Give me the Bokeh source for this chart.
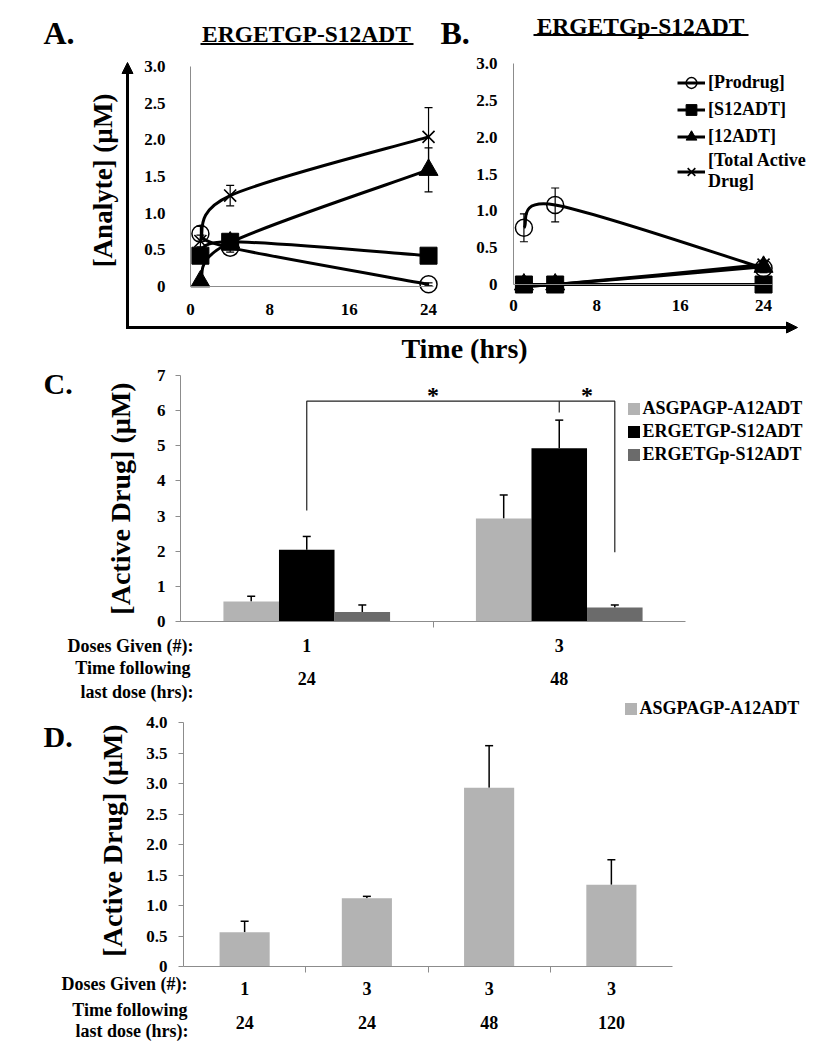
import math
from bokeh.plotting import figure
from bokeh.models import (ColumnDataSource, Whisker, TeeHead, NormalHead, Arrow,
                          Label, Legend, LegendItem, FixedTicker, Range1d, LinearAxis)
from bokeh.core.properties import value
from bokeh.embed import file_html
from bokeh.resources import INLINE

FONT = "Liberation Serif"
AXIS_GRAY = "#8c8c8c"

# ---------------- data ----------------
hours = [1, 4, 24]
prodrug_A = [0.72, 0.53, 0.03]
prodrug_A_err = [0.10, 0.06, 0.02]
s12adt_A = [0.42, 0.61, 0.42]
s12adt_A_err = [0.10, 0.03, 0.03]
adt12_A = [0.07, 0.60, 1.59]
adt12_A_err = [0.03, 0.05, 0.30]
total_A = [0.62, 1.24, 2.04]
total_A_err = [0.08, 0.14, 0.40]

prodrug_B = [0.77, 1.08, 0.22]
prodrug_B_err = [0.19, 0.23, 0.06]
s12adt_B = [0.0, 0.0, 0.0]
s12adt_B_err = [0.0, 0.0, 0.0]
adt12_B = [0.0, 0.0, 0.24]
adt12_B_err = [0.0, 0.0, 0.03]
total_B = [0.0, 0.0, 0.27]
total_B_err = [0.0, 0.0, 0.04]

series_AB = ["[Prodrug]", "[S12ADT]", "[12ADT]", "[Total Active\nDrug]"]
time_ticks = [0, 8, 16, 24]
analyte_ticks = [0, 0.5, 1.0, 1.5, 2.0, 2.5, 3.0]
analyte_tick_labels = ["0", "0.5", "1.0", "1.5", "2.0", "2.5", "3.0"]

series_C = ["ASGPAGP-A12ADT", "ERGETGP-S12ADT", "ERGETGp-S12ADT"]
doses_C = ["1", "3"]
hours_C = ["24", "48"]
asgpagp_C = [0.57, 2.93]
asgpagp_C_err = [0.15, 0.67]
ergetgp_C = [2.04, 4.93]
ergetgp_C_err = [0.38, 0.80]
ergetgp_p_C = [0.27, 0.40]
ergetgp_p_C_err = [0.20, 0.07]
drug_ticks_C = [0, 1, 2, 3, 4, 5, 6, 7]
drug_tick_labels_C = ["0", "1", "2", "3", "4", "5", "6", "7"]

series_D = ["ASGPAGP-A12ADT"]
doses_D = ["1", "3", "3", "3"]
hours_D = ["24", "24", "48", "120"]
asgpagp_D = [0.56, 1.12, 2.93, 1.34]
asgpagp_D_err = [0.18, 0.03, 0.69, 0.41]
drug_ticks_D = [0, 0.5, 1.0, 1.5, 2.0, 2.5, 3.0, 3.5, 4.0]
drug_tick_labels_D = ["0", "0.5", "1.0", "1.5", "2.0", "2.5", "3.0", "3.5", "4.0"]

# significance bracket in C (y values in uM)
bracket_top = 6.27
bracket_bottoms = [3.16, 5.95, 1.97]
star_lift = 0.17

BAR_COLORS = ["#b3b3b3", "#000000", "#6b6b6b"]

# ---------------- canvas ----------------
W, H = 823, 1046
p = figure(width=W, height=H, x_range=Range1d(0, W), y_range=Range1d(H, 0),
           x_axis_type=None, y_axis_type=None, min_border=0,
           min_border_left=0, min_border_right=0, min_border_top=0, min_border_bottom=0,
           output_backend="svg", toolbar_location=None, tools="")
p.outline_line_color = None
p.background_fill_color = "white"
p.border_fill_color = "white"


def panel_ranges(name, fl, fr, ft, fb, xr, yr):
    """Ranges for one sub-chart whose data box (xr, yr) sits at the given pixel frame."""
    sx = (fr - fl) / (xr[1] - xr[0])
    sy = (fb - ft) / (yr[1] - yr[0])
    p.extra_x_ranges["x" + name] = Range1d(xr[0] - fl / sx, xr[1] + (W - fr) / sx)
    p.extra_y_ranges["y" + name] = Range1d(yr[0] - (H - fb) / sy, yr[1] + ft / sy)
    return dict(x_range_name="x" + name, y_range_name="y" + name)


def text(x, y, s, size, align="left", angle=0.0):
    p.add_layout(Label(x=x, y=y, text=s, text_font=FONT, text_font_style="bold",
                       text_font_size=f"{size}px", text_align=align,
                       text_baseline="middle", angle=angle, text_color="black"))


def line_deco(xa, ya, xb, yb, width, head=None):
    p.add_layout(Arrow(x_start=xa, y_start=ya, x_end=xb, y_end=yb, end=head,
                       line_color="black", line_width=width))


def style_axis(ax, standoff, tick_out=0, size=17, labels=True):
    ax.major_label_text_font = FONT
    ax.major_label_text_font_style = "bold"
    ax.major_label_text_font_size = f"{size}px"
    ax.major_label_text_color = "black" if labels else None
    ax.axis_line_color = AXIS_GRAY
    ax.major_tick_line_color = AXIS_GRAY
    ax.major_tick_out = tick_out
    ax.major_tick_in = 0
    ax.minor_tick_line_color = None
    ax.major_label_standoff = standoff


def add_axes(rn, xb, yb, xticks, yticks, ylabels, xstand, ystand, tick_out, xlabels=True):
    ya = LinearAxis(fixed_location=xb[0], bounds=yb, ticker=FixedTicker(ticks=yticks),
                    major_label_overrides=dict(zip(yticks, ylabels)), **rn)
    style_axis(ya, ystand, tick_out)
    p.add_layout(ya, "left")
    xa = LinearAxis(fixed_location=yb[0], bounds=xb, ticker=FixedTicker(ticks=xticks), **rn)
    style_axis(xa, xstand, 0 if xlabels else 6, labels=xlabels)
    p.add_layout(xa, "below")


def smooth(xs, ys):
    n = len(xs)
    d = {k: [] for k in ("x0", "y0", "x1", "y1", "cx0", "cy0", "cx1", "cy1")}
    for i in range(n - 1):
        a = max(i - 1, 0)
        b = min(i + 2, n - 1)
        d["x0"].append(xs[i]); d["y0"].append(ys[i])
        d["x1"].append(xs[i + 1]); d["y1"].append(ys[i + 1])
        d["cx0"].append(xs[i] + (xs[i + 1] - xs[a]) / 6)
        d["cy0"].append(ys[i] + (ys[i + 1] - ys[a]) / 6)
        d["cx1"].append(xs[i + 1] - (xs[b] - xs[i]) / 6)
        d["cy1"].append(ys[i + 1] - (ys[b] - ys[i]) / 6)
    return ColumnDataSource(d)


MARKERS = [dict(marker="circle", size=17, fill_color=None, line_width=1.5),
           dict(marker="square", size=17, fill_color="black", line_width=1),
           dict(marker="triangle", size=19, fill_color="black", line_width=1),
           dict(marker="x", size=17, line_width=1.6)]


def time_series(rn, series, errs):
    lines = [p.bezier(x0="x0", y0="y0", x1="x1", y1="y1", cx0="cx0", cy0="cy0",
                      cx1="cx1", cy1="cy1", source=smooth(hours, ys),
                      line_color="black", line_width=3, **rn) for ys in series]
    marks = []
    for ys, es, mk in zip(series, errs, MARKERS):
        marks.append(p.scatter(x=hours, y=ys, line_color="black", **mk, **rn))
        src = ColumnDataSource(dict(t=hours, lo=[v - e for v, e in zip(ys, es)],
                                    hi=[v + e for v, e in zip(ys, es)]))
        p.add_layout(Whisker(source=src, base="t", lower="lo", upper="hi",
                             line_color="black", line_width=1.2,
                             upper_head=TeeHead(size=8, line_color="black", line_width=1.2),
                             lower_head=TeeHead(size=8, line_color="black", line_width=1.2),
                             **rn))
    return lines, marks


def legend(items, loc_left, loc_bottom, gw, gh, spacing, standoff):
    leg = Legend(items=items, location=(loc_left, H - loc_bottom), glyph_width=gw,
                 glyph_height=gh, spacing=spacing, padding=0, margin=0,
                 label_standoff=standoff, border_line_color=None,
                 background_fill_alpha=0, label_text_font=FONT, label_text_color="black",
                 label_text_font_style="bold", label_text_font_size="18px")
    p.add_layout(leg, "center")


def category_label(rn, x, offset, s):
    p.add_layout(Label(x=x, y=0, y_offset=offset, text=s, text_font=FONT,
                       text_font_style="bold", text_font_size="18px", text_align="center",
                       text_baseline="middle", text_color="black", **rn))


HEAD = dict(size=11, fill_color="black", line_color="black", line_width=1)

# ---------------- panel A ----------------
rA = panel_ranges("A", 190, 433, 66, 286, (0, 24.5), (0, 3.0))
add_axes(rA, (0, 24.5), (0, 3.0), time_ticks, analyte_ticks, analyte_tick_labels, 17, 25, 0)
time_series(rA, [prodrug_A, s12adt_A, adt12_A, total_A],
            [prodrug_A_err, s12adt_A_err, adt12_A_err, total_A_err])
text(43, 32, "A.", 32)
text(306, 33, "ERGETGP-S12ADT", 23.5, align="center")
line_deco(200, 43.5, 413, 43.5, 2)
text(102, 180, "[Analyte] (\u00b5M)", 27, align="center", angle=math.pi / 2)
line_deco(127, 328.5, 127, 62, 3, NormalHead(**HEAD))
line_deco(125.5, 327, 797, 327, 3, NormalHead(**HEAD))
text(464, 348, "Time (hrs)", 28, align="center")

# ---------------- panel B ----------------
rB = panel_ranges("B", 513, 772, 63, 284, (0, 24.86), (0, 3.0))
add_axes(rB, (0, 24.86), (0, 3.0), time_ticks, analyte_ticks, analyte_tick_labels, 15, 16, 0)
linesB, marksB = time_series(rB, [prodrug_B, s12adt_B, adt12_B, total_B],
                             [prodrug_B_err, s12adt_B_err, adt12_B_err, total_B_err])
text(440, 32, "B.", 32)
text(640, 25, "ERGETGp-S12ADT", 23.5, align="center")
line_deco(533, 34.5, 748, 34.5, 2)
legend([LegendItem(label=s, renderers=[l, m]) for s, l, m in zip(series_AB, linesB, marksB)],
       677, 192, 28, 27, 0, 3)

# ---------------- panel C ----------------
rC = panel_ranges("C", 180, 685, 375, 621, (0, 2), (0, 7))
add_axes(rC, (0, 2), (0, 7), [1], drug_ticks_C, drug_tick_labels_C, 0, 10, 5, xlabels=False)
offsets = [-0.22, 0.0, 0.22]
itemsC = []
for name, vals, errs, col, off in zip(series_C, [asgpagp_C, ergetgp_C, ergetgp_p_C],
                                      [asgpagp_C_err, ergetgp_C_err, ergetgp_p_C_err],
                                      BAR_COLORS, offsets):
    xs = [i + 0.5 + off for i in range(len(vals))]
    r = p.vbar(x=xs, top=vals, width=0.22, fill_color=col, line_color=None, **rC)
    src = ColumnDataSource(dict(x=xs, lo=vals, hi=[v + e for v, e in zip(vals, errs)]))
    p.add_layout(Whisker(source=src, base="x", lower="lo", upper="hi", lower_head=None,
                         line_color="black", line_width=1.5,
                         upper_head=TeeHead(size=8, line_color="black", line_width=1.5), **rC))
    itemsC.append(LegendItem(label=name, renderers=[r]))
# significance bracket: group-1 ERGETGP bar -> group-2 ERGETGP bar -> group-2 ERGETGp bar
bx = [0.5, 1.5, 1.5 + offsets[2]]
p.line(x=[bx[0], bx[0], bx[2], bx[2]],
       y=[bracket_bottoms[0], bracket_top, bracket_top, bracket_bottoms[2]],
       line_color="#222222", line_width=1.2, **rC)
p.line(x=[bx[1], bx[1]], y=[bracket_top, bracket_bottoms[1]], line_color="#222222",
       line_width=1.2, **rC)
p.text(x=[(bx[0] + bx[1]) / 2, (bx[1] + bx[2]) / 2],
       y=[bracket_top + star_lift, bracket_top + star_lift],
       text=["*", "*"], text_font=value(FONT), text_font_style="bold", text_font_size="24px",
       text_align="center", text_baseline="middle", text_color="black", **rC)
legend(itemsC, 625.5, 465, 15, 15, 2, 2)
text(43, 383, "C.", 30)
text(120, 498, "[Active Drug] (\u00b5M)", 28, align="center", angle=math.pi / 2)
text(193, 645, "Doses Given (#):", 18, align="right")
text(190, 667, "Time following", 18, align="right")
text(193, 691, "last dose (hrs):", 18, align="right")
for i in range(len(doses_C)):
    category_label(rC, i + 0.5, -24, doses_C[i])
    category_label(rC, i + 0.5, -57, hours_C[i])

# ---------------- panel D ----------------
rD = panel_ranges("D", 183, 672, 722, 966, (0, 4), (0, 4))
add_axes(rD, (0, 4), (0, 4), [1, 2, 3], drug_ticks_D, drug_tick_labels_D, 0, 11, 5, xlabels=False)
xsD = [i + 0.5 for i in range(len(asgpagp_D))]
barD = p.vbar(x=xsD, top=asgpagp_D, width=0.41, fill_color=BAR_COLORS[0], line_color=None, **rD)
srcD = ColumnDataSource(dict(x=xsD, lo=asgpagp_D,
                             hi=[v + e for v, e in zip(asgpagp_D, asgpagp_D_err)]))
p.add_layout(Whisker(source=srcD, base="x", lower="lo", upper="hi", lower_head=None,
                     line_color="black", line_width=1.5,
                     upper_head=TeeHead(size=8, line_color="black", line_width=1.5), **rD))
legend([LegendItem(label=series_D[0], renderers=[barD])], 622.5, 718.75, 15, 15, 2, 2)
text(43, 736, "D.", 30)
text(112, 840, "[Active Drug] (\u00b5M)", 28, align="center", angle=math.pi / 2)
text(187, 983, "Doses Given (#):", 18, align="right")
text(187, 1009, "Time following", 18, align="right")
text(188, 1030, "last dose (hrs):", 18, align="right")
for i in range(len(doses_D)):
    category_label(rD, xsD[i], -22, doses_D[i])
    category_label(rD, xsD[i], -56, hours_D[i])

open("out.html", "w").write(file_html(p, INLINE))
